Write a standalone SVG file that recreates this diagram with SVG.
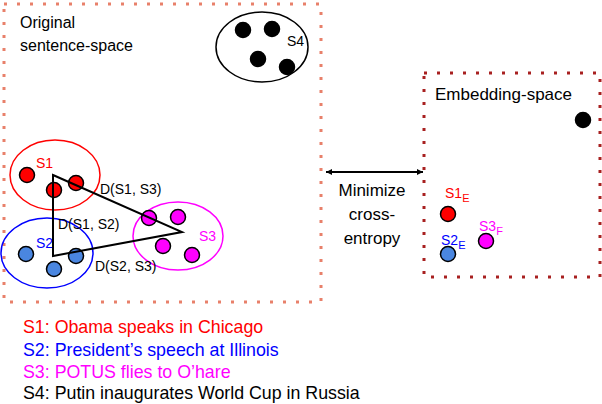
<svg xmlns="http://www.w3.org/2000/svg" width="602" height="404" viewBox="0 0 602 404">
<defs>
<style>
text{font-family:"Liberation Sans",Arial,sans-serif;font-size:18px}
.d{font-size:14px}
.lg{font-size:17.8px}
.dot{stroke:#000;stroke-width:1.5}
.r{fill:#f00}.b{fill:#4a86e0}.m{fill:#f0f}.k{fill:#000}
.sub{font-size:11px}
</style>
<marker id="ah" viewBox="0 0 10 10" refX="10" refY="5" markerWidth="10" markerHeight="6" markerUnits="userSpaceOnUse" orient="auto-start-reverse"><path d="M0,0L10,5L0,10z" fill="#000"/></marker>
</defs>
<rect fill="#fff" width="602" height="404"/>
<rect x="4" y="4" width="317" height="298" fill="none" stroke="#e8806a" stroke-width="3" stroke-dasharray="3,10"/>
<rect x="424" y="73" width="176" height="204" fill="none" stroke="#a82020" stroke-width="3" stroke-dasharray="3,10"/>
<text x="20" y="28" style="font-size:16px">Original</text>
<text x="20" y="51" style="font-size:16px">sentence-space</text>
<g id="S4"><ellipse cx="262" cy="47" rx="46" ry="35" fill="none" stroke="#000" stroke-width="1.5"/>
<circle class="dot k" cx="243" cy="30" r="7.5"/><circle class="dot k" cx="272" cy="29" r="7.5"/><circle class="dot k" cx="258" cy="59" r="7.5"/><circle class="dot k" cx="287" cy="67" r="7.5"/>
<text x="287" y="46" class="d">S4</text></g>
<g id="S1"><ellipse cx="55" cy="175" rx="45" ry="35" fill="none" stroke="#f00" stroke-width="1.5"/>
<circle class="dot r" cx="27" cy="175" r="7.5"/><circle class="dot r" cx="54" cy="190" r="7.5"/><circle class="dot r" cx="76" cy="183" r="7.5"/>
<text x="36" y="168" class="d" fill="#f00">S1</text></g>
<g id="S2"><ellipse cx="47" cy="253" rx="46" ry="35" fill="none" stroke="#00f" stroke-width="1.5"/>
<circle class="dot b" cx="26" cy="254" r="7.5"/><circle class="dot b" cx="54" cy="269" r="7.5"/><circle class="dot b" cx="76" cy="256" r="7.5"/>
<text x="36" y="248" class="d" fill="#00f">S2</text></g>
<g id="S3"><ellipse cx="178" cy="236" rx="45" ry="34" fill="none" stroke="#f0f" stroke-width="1.5"/>
<circle class="dot m" cx="149" cy="218" r="7.5"/><circle class="dot m" cx="178" cy="217" r="7.5"/><circle class="dot m" cx="163" cy="246" r="7.5"/><circle class="dot m" cx="192" cy="255" r="7.5"/>
<text x="199" y="241" class="d" fill="#f0f">S3</text></g>
<g id="connectors" fill="none" stroke="#000" stroke-width="2">
<path d="M53,175L182,232L53,256Z"/>
<line x1="326" y1="172" x2="423" y2="172" marker-start="url(#ah)" marker-end="url(#ah)"/>
</g>
<text x="100" y="194" class="d">D(S1, S3)</text>
<text x="58" y="229" class="d">D(S1, S2)</text>
<text x="95" y="271" class="d">D(S2, S3)</text>
<g id="minimize" text-anchor="middle"><text x="372" y="196" style="font-size:17px">Minimize</text><text x="372" y="220" style="font-size:17px">cross-</text><text x="372" y="244" style="font-size:17px">entropy</text></g>
<text x="435" y="100" style="font-size:17px">Embedding-space</text>
<g id="emb">
<circle class="dot k" cx="583" cy="120" r="7.5"/>
<circle class="dot r" cx="448" cy="214" r="7.5"/><text x="445" y="198" class="d" fill="#f00">S1<tspan class="sub" dy="4">E</tspan></text>
<circle class="dot b" cx="448" cy="254" r="7.5"/><text x="441" y="245" class="d" fill="#00f">S2<tspan class="sub" dy="4">E</tspan></text>
<circle class="dot m" cx="486" cy="241" r="7.5"/><text x="479" y="231" class="d" fill="#f0f">S3<tspan class="sub" dy="4">F</tspan></text>
</g>
<g id="legend">
<text x="23" y="333" class="lg" fill="#f00">S1: Obama speaks in Chicago</text>
<text x="23" y="356" class="lg" fill="#00f">S2: President’s speech at Illinois</text>
<text x="23" y="378" class="lg" fill="#f0f">S3: POTUS flies to O’hare</text>
<text x="23" y="399" class="lg" fill="#000">S4: Putin inaugurates World Cup in Russia</text>
</g>
</svg>
